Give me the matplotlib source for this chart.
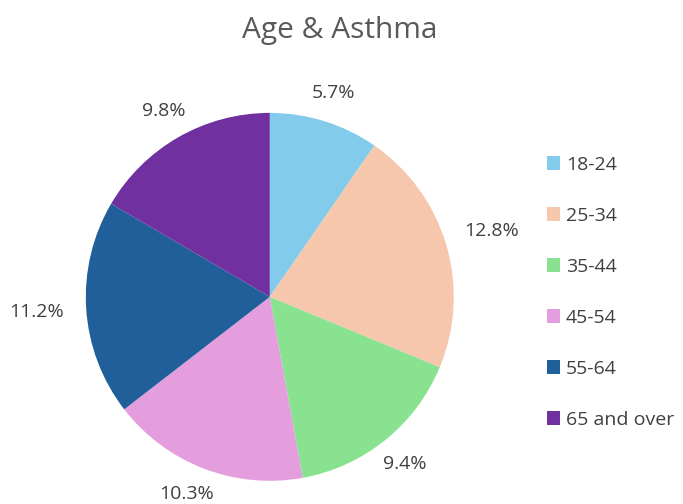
import matplotlib
matplotlib.use("Agg")
import numpy as np
import matplotlib.pyplot as plt

categories = ["18-24", "25-34", "35-44", "45-54", "55-64", "65 and over"]
values = [5.7, 12.8, 9.4, 10.3, 11.2, 9.8]
colors = ["#83CBEB", "#F6C6AD", "#88E290", "#E49EDD", "#215F9A", "#7030A0"]

plt.rcParams['font.family'] = ['Open Sans', 'DejaVu Sans']

fig = plt.figure(figsize=(6.83, 5.04), dpi=100)
ax = fig.add_axes([0.395 - 0.2695, 0.411 - 0.365, 0.539, 0.730])

wedges, _ = ax.pie(values, colors=colors, startangle=90, counterclock=False,
                   wedgeprops=dict(linewidth=0))
ax.set_xlim(-1, 1)
ax.set_ylim(-1, 1)
ax.set_aspect("equal")

# Outside-end data labels: box edge sits a fixed gap outside the pie,
# slid along the rim (away from the bottom) if it would fall below the chart area.
fig.canvas.draw()
renderer = fig.canvas.get_renderer()
px_per_unit = ax.transData.transform((1, 0))[0] - ax.transData.transform((0, 0))[0]
gap = 22 / px_per_unit
ymin = ax.transData.inverted().transform((0, 3))[1]
for w, v in zip(wedges, values):
    t = ax.text(0, 0, f"{v}%", ha="center", va="center", fontsize=14, color="#404040")
    bb = t.get_window_extent(renderer)
    hw = bb.width / 2 / px_per_unit
    hh = bb.height / 2 / px_per_unit * 0.8
    ang = np.deg2rad((w.theta1 + w.theta2) / 2)
    for _ in range(60):
        c, s = np.cos(ang), np.sin(ang)
        edge = min(hw / max(abs(c), 1e-6), hh / max(abs(s), 1e-6))
        R = 1 + gap + edge
        x, y = R * c, R * s
        if y - hh >= ymin:
            break
        ang += -np.deg2rad(1) if c < 0 else np.deg2rad(1)
    t.set_position((x, y))

fig.text(0.498, 0.94, "Age & Asthma", ha="center", va="center", fontsize=21.5, color="#595959")

fig.legend(wedges, categories, loc="center left", bbox_to_anchor=(0.775, 0.42),
           frameon=False, fontsize=14, labelcolor="#404040",
           handlelength=0.68, handleheight=0.68, handletextpad=0.3, labelspacing=1.7)

fig.savefig("out.png", dpi=100)
